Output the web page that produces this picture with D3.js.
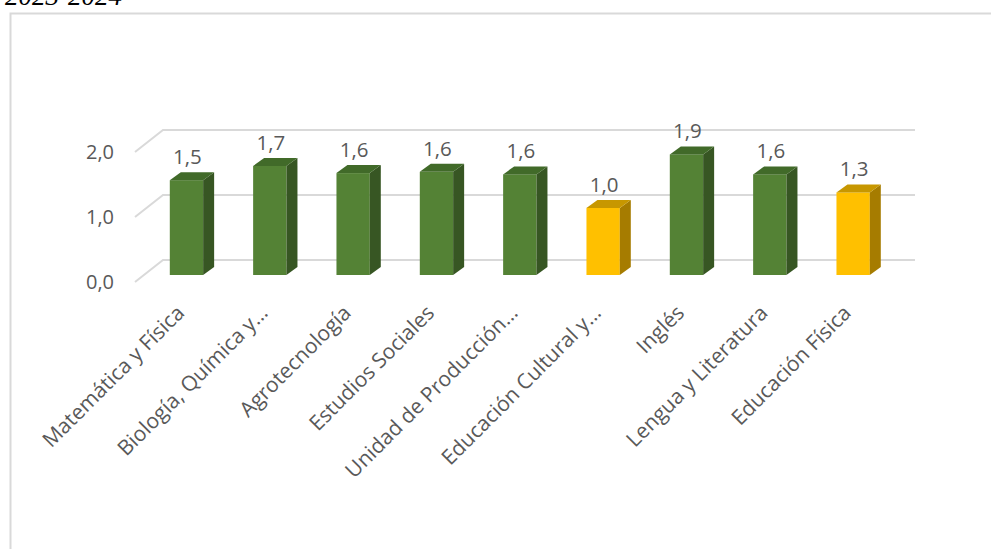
<!DOCTYPE html>
<html><head><meta charset="utf-8">
<script src="https://cdn.jsdelivr.net/npm/d3@7"></script>
<style>
html,body{margin:0;padding:0;background:#fff;overflow:hidden}
svg{display:block}
</style></head>
<body>
<script>
const categories = ["Matemática y Física","Biología, Química y…","Agrotecnología","Estudios Sociales","Unidad de Producción…","Educación Cultural y…","Inglés","Lengua y Literatura","Educación Física"];
const values = [1.47,1.69,1.58,1.60,1.56,1.04,1.87,1.56,1.28];
const highlight = [false,false,false,false,false,true,false,false,true];
const yTicks = [0,1,2];
const titleText = "2023-2024";

const W=991,H=549;
const svg=d3.select("body").append("svg").attr("width",W).attr("height",H);
const font="'Open Sans', 'Noto Sans', sans-serif";
const txt="#595959";

// title (cut off at top, as in the source)
svg.append("text").attr("x",5).attr("y",5).attr("font-family","'Liberation Serif', serif")
  .attr("font-style","italic").attr("font-size",27).attr("fill","#000").text(titleText);

// frame
svg.append("path").attr("d","M10.5,549 V13.5 H991").attr("fill","none").attr("stroke","#d9d9d9").attr("stroke-width",2);

const x=d3.scaleBand().domain(categories).range([144.8,894.8]).paddingInner(0.6).paddingOuter(0.3);
const yBack=d3.scaleLinear().domain([0,2]).range([260,130]);
const yBar=d3.scaleLinear().domain([0,2]).range([275,146]);
const depthX=28, depthY=22;

// gridlines
const g=svg.append("g");
yTicks.forEach(t=>{
  const yb=yBack(t);
  g.append("path").attr("d",`M135,${yb+depthY} L163,${yb} H915`).attr("fill","none")
   .attr("stroke","#d9d9d9").attr("stroke-width",2);
  g.append("text").attr("x",114).attr("y",yb+depthY).attr("dy","0.35em").attr("text-anchor","end")
   .attr("font-family",font).attr("font-size",20).attr("fill",txt).text(d3.format(".1f")(t).replace(".",","));
});

// bars
const bw=x.bandwidth(), dx=11, dy=8;
const colors={g:{front:"#548235",side:"#375623",top:"#416a29"},y:{front:"#FFC000",side:"#A67C00",top:"#C79700"}};
categories.forEach((c,i)=>{
  const col=highlight[i]?colors.y:colors.g;
  const x0=x(c), x1=x0+bw, y0=yBar(0), y1=yBar(values[i]);
  const bg=svg.append("g");
  bg.append("rect").attr("x",x0).attr("y",y1).attr("width",bw).attr("height",y0-y1).attr("fill",col.front);
  bg.append("path").attr("d",`M${x1},${y1} L${x1+dx},${y1-dy} L${x1+dx},${y0-dy} L${x1},${y0} Z`).attr("fill",col.side);
  bg.append("path").attr("d",`M${x0},${y1} L${x0+dx},${y1-dy} L${x1+dx},${y1-dy} L${x1},${y1} Z`).attr("fill",col.top);
  svg.append("text").attr("x",x0+bw/2+1).attr("y",y1-dy-8).attr("text-anchor","middle")
   .attr("font-family",font).attr("font-size",20.5).attr("fill",txt)
   .text(d3.format(".1f")(values[i]).replace(".",","));
  svg.append("text").attr("transform",`translate(${x0+bw/2-6},${309}) rotate(-45)`)
   .attr("text-anchor","end").attr("dy","0.35em")
   .attr("font-family",font).attr("font-size",21).attr("fill",txt).text(c);
});
</script>
</body></html>
